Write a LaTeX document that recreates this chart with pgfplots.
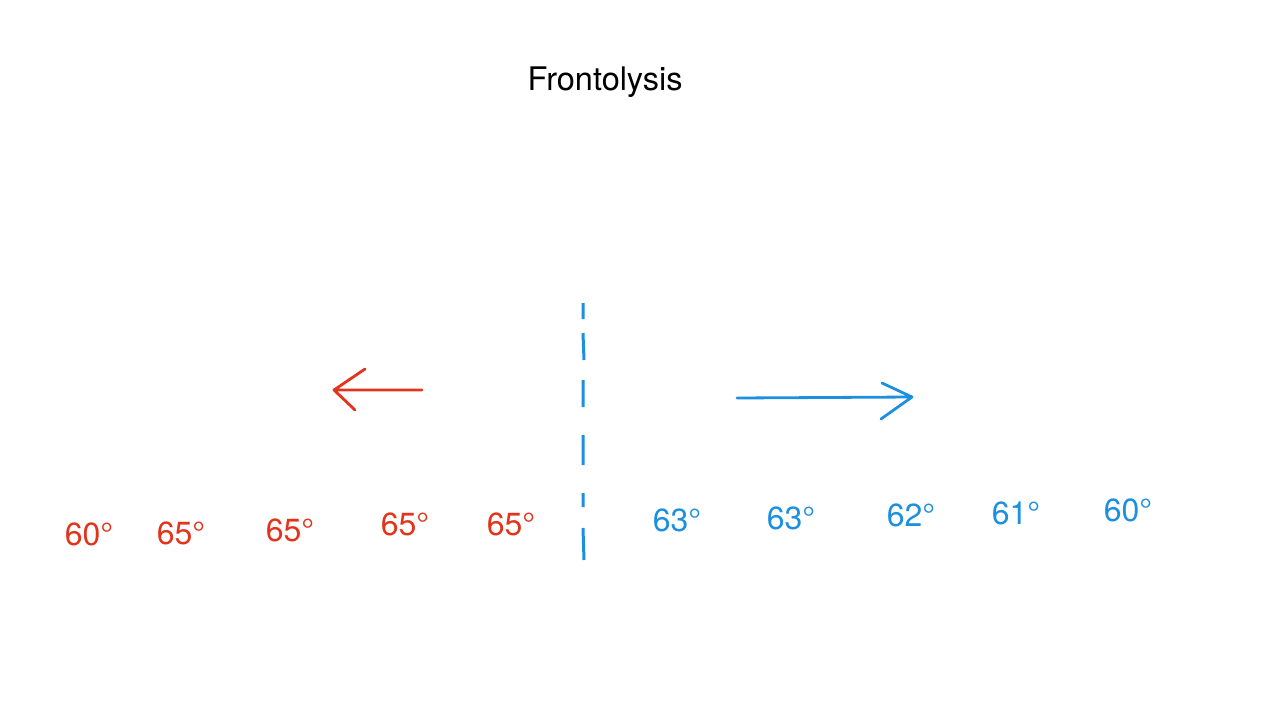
\documentclass[border=0pt]{standalone}
\usepackage{pgfplots}
\pgfplotsset{compat=1.18}
\usepackage{fontspec}
\setmainfont{TeX Gyre Heros}
\definecolor{fred}{RGB}{226,52,28}
\definecolor{fblue}{RGB}{28,143,224}
\begin{document}
\begin{tikzpicture}
\begin{axis}[
  width=1280pt, height=720pt, scale only axis,
  xmin=0, xmax=1280, ymin=0, ymax=720, y dir=reverse,
  hide axis, clip=false, unbounded coords=jump,
]
\addplot[draw=none, forget plot] coordinates {(0,0) (1280,720)};
% red temperatures
\addplot[only marks, mark=none, point meta=explicit symbolic,
  nodes near coords, nodes near coords align={center},
  every node near coord/.style={anchor=center, text=fred, font=\fontsize{32}{38}\selectfont, inner sep=0pt}]
  table[meta=label] {
x y label
89 534 60°
181 533 65°
290 530 65°
405 524 65°
511 524 65°
};
% blue temperatures
\addplot[only marks, mark=none, point meta=explicit symbolic,
  nodes near coords, nodes near coords align={center},
  every node near coord/.style={anchor=center, text=fblue, font=\fontsize{32}{38}\selectfont, inner sep=0pt}]
  table[meta=label] {
x y label
677 520 63°
791 518 63°
911 515 62°
1016 513 61°
1128 510 60°
};
% red arrow
\addplot[fred, line width=2.8pt, line cap=round, line join=round] table {
x y
422 390
334 390
nan nan
365 369
334 390
355 410
};
% blue arrow
\addplot[fblue, line width=2.8pt, line cap=round, line join=round] table {
x y
737 398
912 397
nan nan
882 383
912 397
881 419
};
% dashed front line
\addplot[fblue, line width=3pt, line cap=butt] table {
x y
583 303
583 319
nan nan
583 333
584 360
nan nan
583 380
583 407
nan nan
583 435
583 465
nan nan
583 493
583 507
nan nan
583 528
584 560
};
\node[anchor=center, font=\fontsize{32.5}{38}\selectfont] at (axis cs:605,82) {Frontolysis};
\end{axis}
\end{tikzpicture}
\end{document}
